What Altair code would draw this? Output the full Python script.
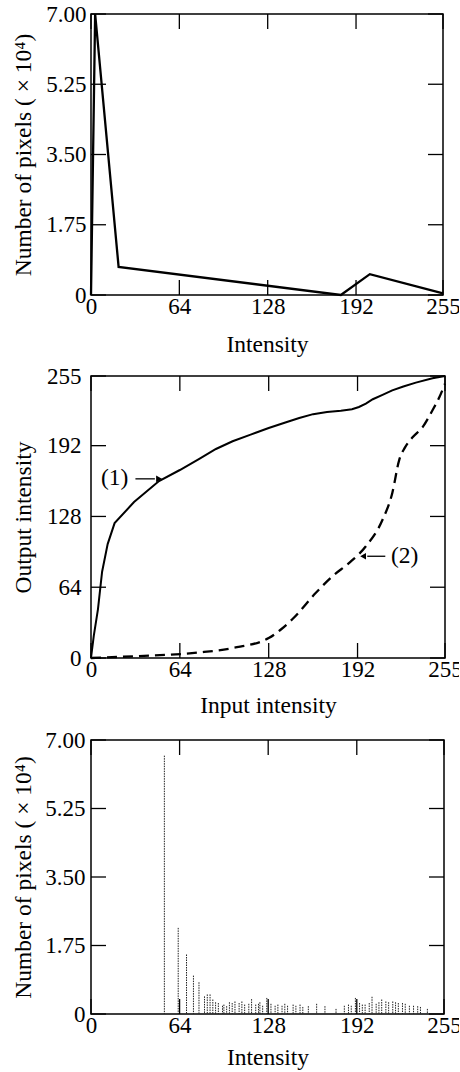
import altair as alt
import pandas as pd

# ---------------- data ----------------
# Top: histogram of original image (envelope), counts in 1e4
top_intensity = [0, 3, 20, 181, 202, 255]
top_count = [0.0, 7.0, 0.70, 0.0, 0.52, 0.04]

# Middle: transformation functions
curve1_in = [0, 2, 5, 8, 12, 17, 31, 49, 64, 78, 90, 102, 115, 128, 140, 150, 160, 170, 180, 188, 193, 198,
             203, 210, 217, 225, 234, 246, 255]
curve1_out = [0, 20, 44, 78, 103, 122, 141, 160, 170, 180, 189, 196, 202, 208, 213, 217, 220.5, 222.5, 223.5,
              225, 227, 230, 234, 238, 242, 245.5, 249, 253, 255]
curve2_in = [0, 30, 78, 102, 128, 137, 145, 162, 174, 186, 198, 210, 217, 222, 226, 232, 239, 246, 251, 255]
curve2_out = [0, 1.5, 5, 9, 18, 26, 35, 59, 74, 86, 101, 125, 149, 179, 190, 200, 209, 224, 236, 248]

label_text = ["(1)", "(2)"]
label_x = [17, 226]
label_y = [163, 92]
arrow_id = ["a1", "a1", "a2", "a2"]
arrow_x = [32, 46, 212, 199]
arrow_y = [162, 162, 92, 92]
head_x = [49, 196]
head_y = [162, 92]
head_dir = ["right", "left"]

# Bottom: histogram of processed image, counts in 1e4
hist_intensity = [53, 63, 69, 74, 78, 82, 84, 86, 88, 90, 92, 95, 96, 98, 100, 102, 104, 107, 109, 111,
                  114, 116, 119, 121, 122, 124, 127, 130, 133, 135, 138, 140, 142, 146, 148, 151, 153, 157,
                  163, 169, 177, 183, 186, 188, 191, 194, 196, 198, 201, 203, 206, 208, 210, 213, 215, 218,
                  220, 222, 225, 227, 230, 233, 236, 238, 243]
hist_count = [6.6, 2.2, 1.52, 0.98, 0.81, 0.45, 0.5, 0.5, 0.37, 0.3, 0.28, 0.21, 0.24, 0.2, 0.3, 0.28, 0.32, 0.28, 0.32, 0.24,
              0.26, 0.38, 0.24, 0.26, 0.3, 0.21, 0.41, 0.26, 0.21, 0.24, 0.21, 0.26, 0.21, 0.24, 0.21, 0.24, 0.18, 0.2,
              0.26, 0.2, 0.13, 0.21, 0.24, 0.21, 0.41, 0.28, 0.24, 0.24, 0.28, 0.44, 0.26, 0.3, 0.37, 0.32, 0.3, 0.32,
              0.3, 0.28, 0.28, 0.26, 0.21, 0.21, 0.2, 0.18, 0.13]

x_ticks = [0, 64, 128, 192, 255]
count_ticks = [0, 1.75, 3.5, 5.25, 7.0]
out_ticks = [0, 64, 128, 192, 255]

FONT = "Liberation Serif"
LABEL_SIZE = 23
TITLE_SIZE = 23.5
TICK_LEN = 15

count_label = "datum.value == 0 ? '0' : format(datum.value, '.2f')"


def xaxis(title, lp=0, tp=12):
    return alt.Axis(values=x_ticks, title=title, ticks=False, domain=False, grid=False,
                    labelPadding=lp, titlePadding=tp, labelFlush=False, labelOverlap=False)


def yaxis(title, values, expr=None, lp=5, tp=10):
    kw = dict(values=values, title=title, ticks=False, domain=False, grid=False,
              labelPadding=lp, titlePadding=tp, labelFlush=False, labelOverlap=False)
    if expr:
        kw["labelExpr"] = expr
    return alt.Axis(**kw)


def tick_layers(xvals, yvals, W, H, xs, ys, xax, yax):
    tx = pd.DataFrame({"t": xvals})
    ty = pd.DataFrame({"t": yvals})
    st = dict(color="black", strokeWidth=1.3)
    bot = alt.Chart(tx).mark_rule(**st).encode(
        x=alt.X("t:Q", scale=xs, axis=xax), y=alt.value(H), y2=alt.value(H - TICK_LEN))
    top = alt.Chart(tx).mark_rule(**st).encode(
        x=alt.X("t:Q", scale=xs, axis=xax), y=alt.value(0), y2=alt.value(TICK_LEN))
    left = alt.Chart(ty).mark_rule(**st).encode(
        y=alt.Y("t:Q", scale=ys, axis=yax), x=alt.value(0), x2=alt.value(TICK_LEN))
    right = alt.Chart(ty).mark_rule(**st).encode(
        y=alt.Y("t:Q", scale=ys, axis=yax), x=alt.value(W), x2=alt.value(W - TICK_LEN))
    return [bot, top, left, right]


# ---------------- top chart ----------------
W1, H1 = 352, 281
xs1 = alt.Scale(domain=[0, 255], nice=False, zero=False)
ys1 = alt.Scale(domain=[0, 7], nice=False, zero=False)
xa1 = xaxis("Intensity", lp=0, tp=14)
ya1 = yaxis("Number of pixels ( × 10⁴)", count_ticks, count_label, lp=5, tp=10)
top_df = pd.DataFrame({"intensity": top_intensity, "count": top_count})
top_line = alt.Chart(top_df).mark_line(color="black", strokeWidth=2.3).encode(
    x=alt.X("intensity:Q", scale=xs1, axis=xa1),
    y=alt.Y("count:Q", scale=ys1, axis=ya1),
)
top_chart = alt.layer(top_line, *tick_layers(x_ticks, count_ticks, W1, H1, xs1, ys1, xa1, ya1)).properties(
    width=W1, height=H1)

# ---------------- middle chart ----------------
W2, H2 = 354, 282
xs2 = alt.Scale(domain=[0, 255], nice=False, zero=False)
ys2 = alt.Scale(domain=[0, 255], nice=False, zero=False)
xa2 = xaxis("Input intensity", lp=0, tp=12)
ya2 = yaxis("Output intensity", out_ticks, None, lp=10, tp=11)
c1 = pd.DataFrame({"inp": curve1_in, "out": curve1_out})
c2 = pd.DataFrame({"inp": curve2_in, "out": curve2_out})
line1 = alt.Chart(c1).mark_line(color="black", strokeWidth=2.0, interpolate="linear").encode(
    x=alt.X("inp:Q", scale=xs2, axis=xa2),
    y=alt.Y("out:Q", scale=ys2, axis=ya2),
)
line2 = alt.Chart(c2).mark_line(color="black", strokeWidth=2.3, strokeDash=[10, 6],
                                interpolate="monotone").encode(
    x=alt.X("inp:Q", scale=xs2, axis=xa2), y=alt.Y("out:Q", scale=ys2, axis=ya2))
lab_df = pd.DataFrame({"text": label_text, "x": label_x, "y": label_y})
labels = alt.Chart(lab_df).mark_text(font=FONT, fontSize=TITLE_SIZE, color="black").encode(
    x=alt.X("x:Q", scale=xs2, axis=xa2), y=alt.Y("y:Q", scale=ys2, axis=ya2), text="text:N")
arr_df = pd.DataFrame({"id": arrow_id, "x": arrow_x, "y": arrow_y})
arrows = alt.Chart(arr_df).mark_line(color="black", strokeWidth=1.3).encode(
    x=alt.X("x:Q", scale=xs2, axis=xa2), y=alt.Y("y:Q", scale=ys2, axis=ya2), detail="id:N")
head_df = pd.DataFrame({"x": head_x, "y": head_y, "dir": head_dir})
heads = alt.Chart(head_df).mark_point(filled=True, color="black", size=45, opacity=1).encode(
    x=alt.X("x:Q", scale=xs2, axis=xa2), y=alt.Y("y:Q", scale=ys2, axis=ya2),
    shape=alt.Shape("dir:N", scale=alt.Scale(domain=["right", "left"],
                                             range=["triangle-right", "triangle-left"]), legend=None))
mid_chart = alt.layer(line1, line2, labels, arrows, heads,
                      *tick_layers(x_ticks, out_ticks, W2, H2, xs2, ys2, xa2, ya2)).properties(
    width=W2, height=H2)

# ---------------- bottom chart ----------------
W3, H3 = 353, 274
xs3 = alt.Scale(domain=[0, 255], nice=False, zero=False)
ys3 = alt.Scale(domain=[0, 7], nice=False, zero=False)
xa3 = xaxis("Intensity", lp=0, tp=8)
ya3 = yaxis("Number of pixels ( × 10⁴)", count_ticks, count_label, lp=6, tp=9)
h_df = pd.DataFrame({"intensity": hist_intensity, "count": hist_count})
bars = alt.Chart(h_df).mark_rule(color="#222222", strokeWidth=1.0, strokeDash=[1.5, 1]).encode(
    x=alt.X("intensity:Q", scale=xs3, axis=xa3),
    y=alt.Y("count:Q", scale=ys3, axis=ya3),
    y2=alt.datum(0),
)
bot_chart = alt.layer(bars, *tick_layers(x_ticks, count_ticks, W3, H3, xs3, ys3, xa3, ya3)).properties(
    width=W3, height=H3)

inner = alt.concat(mid_chart, bot_chart, columns=1, align="none", spacing=10)
chart = alt.concat(top_chart, inner, columns=1, align="none", spacing=7).properties(
    padding={"left": 10, "top": 2, "right": -4, "bottom": 0}
).configure_view(stroke="black", strokeWidth=1.5).configure_axis(
    labelFont=FONT, titleFont=FONT, labelFontSize=LABEL_SIZE, titleFontSize=TITLE_SIZE,
    labelColor="black", titleColor="black", titleFontWeight="normal"
)

chart.save("out.html", embed_options={"renderer": "svg", "actions": False})
